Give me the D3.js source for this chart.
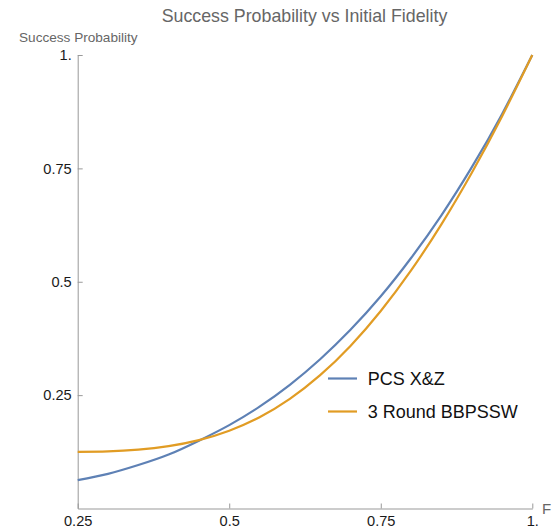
<!DOCTYPE html>
<html><head><meta charset="utf-8">
<script src="https://cdn.jsdelivr.net/npm/d3@7"></script>
<style>
body{margin:0;background:#fff}
svg{display:block;font-family:"Liberation Sans",Arial,sans-serif}
</style>
</head><body>
<svg id="chart" width="554" height="529"></svg>
<script>
// ---- data ----
const fidelity = [0.25,0.30,0.35,0.40,0.45,0.50,0.55,0.60,0.65,0.70,0.75,0.80,0.85,0.90,0.95,1.00];
const pcsXZ    = [0.0625,0.0764,0.0958,0.119,0.1496,0.1839,0.2245,0.2727,0.3291,0.394,0.4679,0.5523,0.6465,0.7521,0.8694,1.0];
const bbpssw3  = [0.125,0.1260,0.1298,0.1375,0.1508,0.1715,0.2013,0.2418,0.2940,0.3585,0.4356,0.5250,0.6266,0.7399,0.8645,1.0];
const seriesNames  = ["PCS X&Z","3 Round BBPSSW"];
const seriesColors = ["#5E81B5","#E19C24"];
const xTicks = [0.25,0.5,0.75,1];
const xTickLabels = ["0.25","0.5","0.75","1."];
const yTicks = [0.25,0.5,0.75,1];
const yTickLabels = ["0.25","0.5","0.75","1."];
const titleText = "Success Probability vs Initial Fidelity";
const yAxisLabel = "Success Probability";
const xAxisLabel = "F";

// ---- drawing ----
const svg = d3.select("#chart");
const x = d3.scaleLinear().domain([0.25,1]).range([77.7,532.3]);
const y = d3.scaleLinear().domain([0,1]).range([508.5,55]);

const axisColor = "#999999";
const labelGray = "#666666";

// x axis
const gx = svg.append("g").attr("transform",`translate(0,${y(0)})`)
  .call(d3.axisBottom(x).tickValues(xTicks).tickFormat((d,i)=>xTickLabels[i])
        .tickSizeInner(-5).tickSizeOuter(0).tickPadding(7));
// y axis
const gy = svg.append("g").attr("transform",`translate(${x(0.25)},0)`)
  .call(d3.axisLeft(y).tickValues(yTicks).tickFormat((d,i)=>yTickLabels[i])
        .tickSizeInner(-5).tickSizeOuter(0).tickPadding(6));
[gx,gy].forEach(g=>{
  g.select(".domain").attr("stroke",axisColor).attr("stroke-width",1);
  g.selectAll(".tick line").attr("stroke",axisColor);
  g.selectAll(".tick text").attr("fill","#1a1a1a").style("font-size","14.6px")
    .style("font-family",'"Liberation Sans",Arial,sans-serif');
});

// curves
const series = [pcsXZ, bbpssw3];
const line = d3.line().x((d,i)=>x(fidelity[i])).y(d=>y(d)).curve(d3.curveNatural);
series.forEach((vals,k)=>{
  svg.append("path").datum(vals)
    .attr("fill","none").attr("stroke",seriesColors[k]).attr("stroke-width",2.2)
    .attr("d",line);
});

// title and axis labels
svg.append("text").attr("x",304.5).attr("y",21.5).attr("text-anchor","middle")
  .attr("fill",labelGray).style("font-size","17.8px").text(titleText);
svg.append("text").attr("x",19).attr("y",42).attr("fill",labelGray)
  .style("font-size","13.6px").text(yAxisLabel);
svg.append("text").attr("x",542).attr("y",514).attr("fill",labelGray)
  .style("font-size","15px").text(xAxisLabel);

// legend
const legend = svg.append("g").attr("transform","translate(328,378.5)");
seriesNames.forEach((name,k)=>{
  const g = legend.append("g").attr("transform",`translate(0,${k*33})`);
  g.append("line").attr("x1",0).attr("x2",29).attr("y1",0).attr("y2",0)
    .attr("stroke",seriesColors[k]).attr("stroke-width",2.2);
  g.append("text").attr("x",39.7).attr("y",6.2).attr("fill","#111")
    .style("font-size","18px").text(name);
});
</script>
</body></html>
